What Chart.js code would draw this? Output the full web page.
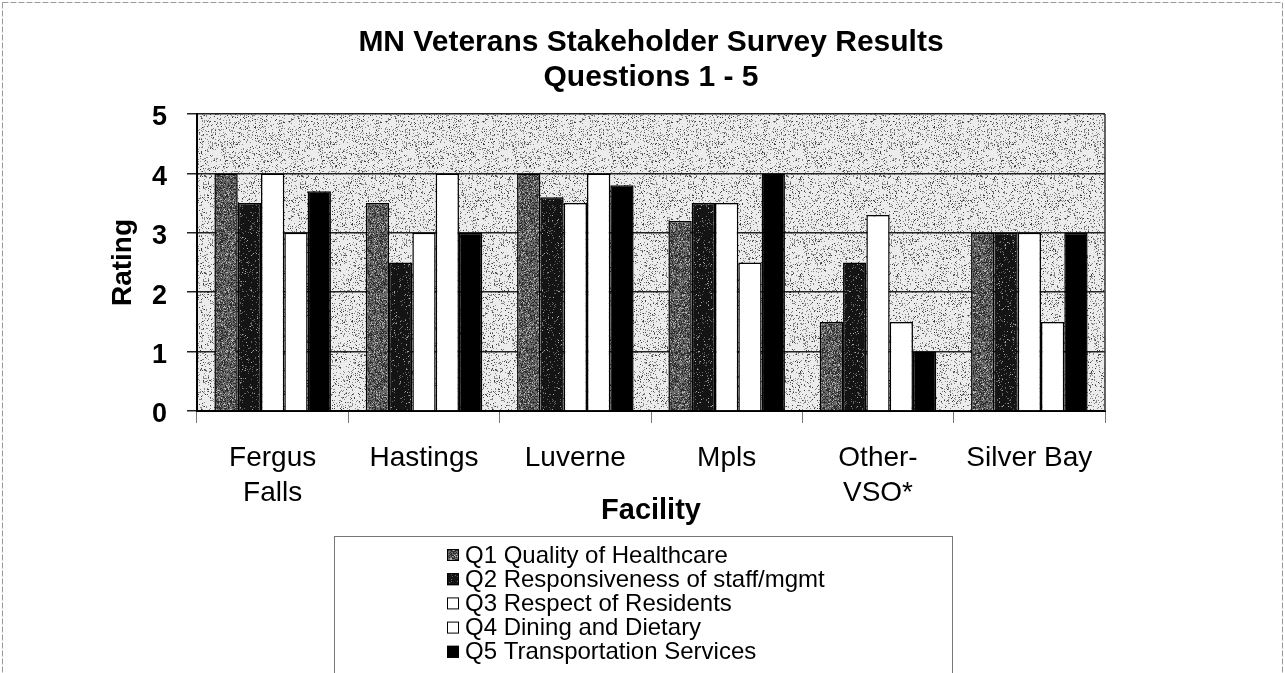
<!DOCTYPE html>
<html>
<head>
<meta charset="utf-8">
<script src="https://cdn.jsdelivr.net/npm/chart.js@4.4.0/dist/chart.umd.min.js"></script>
<style>
  html, body { margin: 0; padding: 0; background: #fff; }
  #wrap { position: relative; width: 1285px; height: 673px; }
</style>
</head>
<body>
<div id="wrap"><canvas id="surveyChart" width="1285" height="673"></canvas></div>
<script>
// dados
const facilities = [['Fergus', 'Falls'], 'Hastings', 'Luverne', 'Mpls', ['Other-', 'VSO*'], 'Silver Bay'];
const questionNames = [
    'Q1 Quality of Healthcare',
    'Q2 Responsiveness of staff/mgmt',
    'Q3 Respect of Residents',
    'Q4 Dining and Dietary',
    'Q5 Transportation Services'
];
const q1Values = [4, 3.5, 4, 3.2, 1.5, 3];
const q2Values = [3.5, 2.5, 3.6, 3.5, 2.5, 3];
const q3Values = [4, 3, 3.5, 3.5, 3.3, 3];
const q4Values = [3, 4, 4, 2.5, 1.5, 1.5];
const q5Values = [3.7, 3, 3.8, 4, 1, 3];
const ratingTicks = [0, 1, 2, 3, 4, 5];
const titleLines = ['MN Veterans Stakeholder Survey Results', 'Questions 1 - 5'];

const FONT = 'Arial, "Liberation Sans", sans-serif';

// textura pontilhada (estilo impressão)
function hash(i, seed) {
    let h = Math.imul(i + 1, 2654435761) ^ Math.imul(seed + 7, 40503);
    h ^= h >>> 15;
    h = Math.imul(h, 2246822519);
    h ^= h >>> 13;
    h = Math.imul(h, 3266489917);
    h ^= h >>> 16;
    return (h >>> 0) / 4294967296;
}

function makeTexture(base, specks, seed) {
    const size = 97;
    const c = document.createElement('canvas');
    c.width = size; c.height = size;
    const g = c.getContext('2d');
    const img = g.createImageData(size, size);
    for (let i = 0; i < size * size; i++) {
        let v = base;
        const r = hash(i, seed);
        let acc = 0;
        for (const s of specks) {
            acc += s.p;
            if (r < acc) { v = s.v; break; }
        }
        img.data[i * 4] = v;
        img.data[i * 4 + 1] = v;
        img.data[i * 4 + 2] = v;
        img.data[i * 4 + 3] = 255;
    }
    g.putImageData(img, 0, 0);
    return g.createPattern(c, 'repeat');
}

const ctx = document.getElementById('surveyChart').getContext('2d');
const plotTexture = makeTexture(236, [{p: 0.13, v: 135}, {p: 0.04, v: 60}], 3);
const q1Texture = makeTexture(105, [{p: 0.35, v: 45}, {p: 0.12, v: 180}], 11);
const q2Texture = makeTexture(20, [{p: 0.07, v: 100}, {p: 0.02, v: 170}], 23);

const fills = [q1Texture, q2Texture, '#ffffff', '#ffffff', '#000000'];
const seriesValues = [q1Values, q2Values, q3Values, q4Values, q5Values];

// fundo, título e moldura da área do gráfico
const plotFrame = {
    id: 'plotFrame',
    beforeDraw(chart) {
        const a = chart.chartArea;
        const c = chart.ctx;
        c.save();
        c.fillStyle = '#fff';
        c.fillRect(0, 0, chart.width, chart.height);
        c.strokeStyle = '#9a9a9a';
        c.lineWidth = 1;
        c.setLineDash([6, 2]);
        c.strokeRect(2.5, 2.5, chart.width - 5, chart.height + 10);
        c.setLineDash([]);
        c.fillStyle = plotTexture;
        c.fillRect(a.left, a.top, a.right - a.left, a.bottom - a.top);

        c.fillStyle = '#000';
        c.font = 'bold 30px ' + FONT;
        c.textAlign = 'center';
        c.textBaseline = 'middle';
        const cx = (a.left + a.right) / 2;
        titleLines.forEach((t, i) => c.fillText(t, cx, 43 + i * 35));
        c.restore();
    },
    afterDatasetsDraw(chart) {
        const a = chart.chartArea;
        const c = chart.ctx;
        c.save();
        c.strokeStyle = '#333';
        c.lineWidth = 1.5;
        c.beginPath();
        c.moveTo(a.right, a.top);
        c.lineTo(a.right, a.bottom);
        c.stroke();
        c.restore();
    }
};

// legenda em caixa, um item por linha
const boxLegend = {
    id: 'boxLegend',
    afterDraw(chart) {
        const c = chart.ctx;
        c.save();
        c.strokeStyle = '#777';
        c.lineWidth = 1;
        c.strokeRect(334.5, 536.5, 618, 150);
        c.font = '24px ' + FONT;
        c.textBaseline = 'middle';
        c.textAlign = 'left';
        chart.data.datasets.forEach((ds, i) => {
            const y = 555 + i * 24.2;
            c.fillStyle = ds.backgroundColor;
            c.fillRect(447, y - 6, 12, 12);
            c.strokeStyle = '#000';
            c.lineWidth = 1;
            c.strokeRect(447.5, y - 5.5, 11, 11);
            c.fillStyle = '#000';
            c.fillText(ds.label, 465, y + 1);
        });
        c.restore();
    }
};

new Chart(ctx, {
    type: 'bar',
    data: {
        labels: facilities,
        datasets: seriesValues.map((vals, i) => ({
            label: questionNames[i],
            data: vals,
            backgroundColor: fills[i],
            borderColor: '#000',
            borderWidth: 1.5,
            categoryPercentage: 0.77,
            barPercentage: 1.0
        }))
    },
    options: {
        responsive: false,
        animation: false,
        devicePixelRatio: 1,
        layout: { padding: { left: 0, right: 180, top: 114, bottom: 141 } },
        plugins: {
            legend: { display: false },
            tooltip: { enabled: false },
            title: { display: false }
        },
        scales: {
            x: {
                grid: {
                    offset: true,
                    drawOnChartArea: false,
                    drawTicks: true,
                    tickLength: 12,
                    color: '#777',
                    lineWidth: 1
                },
                border: { display: true, color: '#000', width: 2 },
                ticks: {
                    color: '#000',
                    padding: 18,
                    font: { family: FONT, size: 28, lineHeight: 1.25 }
                },
                title: {
                    display: true,
                    text: 'Facility',
                    color: '#000',
                    font: { family: FONT, size: 29, weight: 'bold', lineHeight: 1.2 },
                    padding: { top: 0, bottom: 4 }
                },
                afterFit(scale) { scale.height = 121; }
            },
            y: {
                min: 0,
                max: 5,
                afterBuildTicks(scale) { scale.ticks = ratingTicks.map(v => ({ value: v })); },
                grid: {
                    color: '#222',
                    lineWidth: 1.5,
                    drawTicks: true,
                    tickLength: 10
                },
                border: { display: true, color: '#000', width: 2 },
                ticks: {
                    color: '#000',
                    padding: 20,
                    labelOffset: 4,
                    font: { family: FONT, size: 27, weight: 'bold' }
                },
                title: {
                    display: true,
                    text: 'Rating',
                    color: '#000',
                    font: { family: FONT, size: 28, weight: 'bold', lineHeight: 1.2 },
                    padding: { top: 106, bottom: 0 }
                },
                afterFit(scale) { scale.width = 197; }
            }
        }
    },
    plugins: [plotFrame, boxLegend]
});
</script>
</body>
</html>
